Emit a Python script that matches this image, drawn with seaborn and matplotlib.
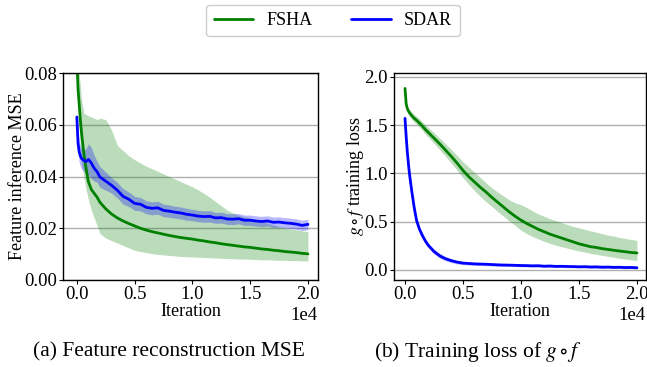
import matplotlib
matplotlib.use("Agg")
import matplotlib.pyplot as plt
import seaborn as sns
import pandas as pd
from matplotlib.lines import Line2D

# ---------------- data ----------------
iterations = [0, 100, 200, 300, 400, 600, 800, 1000, 1250, 1500, 1750,
              2000, 2500, 3000, 3500, 4000, 4500, 5000, 5500, 6000, 6500,
              7000, 7500, 8000, 8500, 9000, 9500, 10000, 10500, 11000, 11500,
              12000, 12500, 13000, 13500, 14000, 14500, 15000, 15500, 16000,
              16500, 17000, 17500, 18000, 18500, 19000, 19500, 20000]

# (a) feature reconstruction MSE
fsha_mse = [0.085, 0.074, 0.068, 0.062, 0.057, 0.049, 0.043, 0.038, 0.035, 0.0335, 0.032,
            0.030, 0.0275, 0.0255, 0.0240, 0.0228, 0.0218, 0.0209, 0.0200, 0.0193, 0.0187,
            0.0182, 0.0177, 0.0172, 0.0168, 0.0164, 0.0161, 0.0158, 0.0154, 0.0151, 0.0147,
            0.0144, 0.0140, 0.0137, 0.0134, 0.0131, 0.0128, 0.0126, 0.0123, 0.0120,
            0.0118, 0.0115, 0.0113, 0.0110, 0.0108, 0.0106, 0.0103, 0.0101]
fsha_mse_hi = [0.090, 0.085, 0.080, 0.075, 0.070, 0.0645, 0.064, 0.0635, 0.063, 0.0625, 0.062,
               0.0625, 0.062, 0.058, 0.052, 0.050, 0.048, 0.0465, 0.0452, 0.0440, 0.0430,
               0.0420, 0.0410, 0.0400, 0.0390, 0.0380, 0.0370, 0.0360, 0.0348, 0.0335, 0.0320,
               0.0303, 0.0287, 0.0270, 0.0260, 0.0250, 0.0245, 0.0240, 0.0233, 0.0226,
               0.0220, 0.0213, 0.0207, 0.0200, 0.0197, 0.0194, 0.0190, 0.0187]
fsha_mse_lo = [0.080, 0.070, 0.060, 0.052, 0.045, 0.040, 0.035, 0.031, 0.027, 0.024, 0.021,
               0.018, 0.0162, 0.0152, 0.0143, 0.0133, 0.0124, 0.0115, 0.0110, 0.0106, 0.0102,
               0.0099, 0.0097, 0.0095, 0.0093, 0.0091, 0.0090, 0.0089, 0.0088, 0.0087, 0.0086,
               0.0085, 0.0084, 0.0083, 0.0082, 0.0081, 0.0081, 0.0080, 0.0079, 0.0078,
               0.0078, 0.0077, 0.0076, 0.0076, 0.0075, 0.0075, 0.0074, 0.0074]
sdar_mse = [0.063, 0.053, 0.0495, 0.048, 0.047, 0.0462, 0.0458, 0.0466, 0.0452, 0.0432, 0.0418,
            0.0398, 0.0382, 0.0366, 0.0347, 0.0323, 0.0312, 0.0296, 0.0293, 0.0281, 0.0277,
            0.0279, 0.0269, 0.0266, 0.0262, 0.0259, 0.0254, 0.0251, 0.0247, 0.0245, 0.0246,
            0.0240, 0.0241, 0.0236, 0.0235, 0.0237, 0.0231, 0.0231, 0.0228, 0.0226,
            0.0228, 0.0223, 0.0224, 0.0221, 0.0219, 0.0216, 0.0211, 0.0215]
sdar_mse_err = [0.002, 0.004, 0.004, 0.004, 0.004, 0.004, 0.005, 0.006, 0.006, 0.005, 0.004,
                0.004, 0.0035, 0.003, 0.003, 0.003, 0.0028, 0.0027, 0.0026, 0.0025, 0.0025,
                0.0025, 0.0024, 0.0024, 0.0023, 0.0023, 0.0023, 0.0022, 0.0022, 0.0022, 0.0022,
                0.0021, 0.0021, 0.0021, 0.0021, 0.0020, 0.0020, 0.0020, 0.0020, 0.0020,
                0.0020, 0.0020, 0.0020, 0.0020, 0.0020, 0.0020, 0.0020, 0.0020]

# (b) training loss of g o f
fsha_loss = [1.88, 1.72, 1.67, 1.645, 1.625, 1.595, 1.57, 1.55, 1.52, 1.49, 1.455,
             1.425, 1.365, 1.305, 1.24, 1.175, 1.105, 1.03, 0.965, 0.91, 0.855,
             0.805, 0.75, 0.70, 0.65, 0.60, 0.555, 0.515, 0.48, 0.45, 0.42,
             0.395, 0.37, 0.35, 0.33, 0.31, 0.29, 0.27, 0.255, 0.24,
             0.232, 0.22, 0.212, 0.203, 0.195, 0.188, 0.18, 0.175]
fsha_loss_hi = [1.90, 1.75, 1.70, 1.68, 1.66, 1.635, 1.61, 1.59, 1.565, 1.535, 1.505,
                1.475, 1.42, 1.365, 1.305, 1.245, 1.185, 1.12, 1.065, 1.01, 0.955,
                0.90, 0.85, 0.805, 0.765, 0.725, 0.695, 0.675, 0.645, 0.61, 0.58,
                0.555, 0.53, 0.51, 0.49, 0.47, 0.45, 0.435, 0.42, 0.405,
                0.39, 0.375, 0.36, 0.35, 0.335, 0.325, 0.315, 0.305]
fsha_loss_lo = [1.86, 1.69, 1.64, 1.61, 1.59, 1.555, 1.53, 1.51, 1.475, 1.445, 1.405,
                1.375, 1.31, 1.245, 1.175, 1.105, 1.03, 0.955, 0.885, 0.82, 0.76,
                0.705, 0.655, 0.605, 0.555, 0.505, 0.46, 0.41, 0.375, 0.345, 0.32,
                0.295, 0.275, 0.255, 0.24, 0.225, 0.21, 0.195, 0.185, 0.17,
                0.16, 0.15, 0.14, 0.13, 0.12, 0.112, 0.104, 0.097]
sdar_loss = [1.57, 1.38, 1.22, 1.09, 0.98, 0.80, 0.64, 0.51, 0.42, 0.355, 0.30,
             0.255, 0.19, 0.145, 0.115, 0.095, 0.080, 0.070, 0.066, 0.062, 0.060,
             0.058, 0.055, 0.052, 0.050, 0.049, 0.047, 0.045, 0.044, 0.042, 0.043,
             0.038, 0.040, 0.036, 0.037, 0.035, 0.034, 0.032, 0.033, 0.030,
             0.031, 0.028, 0.029, 0.026, 0.027, 0.024, 0.025, 0.022]
sdar_loss_err = [0.01, 0.025, 0.025, 0.025, 0.025, 0.025, 0.025, 0.025, 0.025, 0.025, 0.025,
                 0.025, 0.025, 0.025, 0.022, 0.02, 0.018, 0.016, 0.015, 0.015, 0.015,
                 0.014, 0.014, 0.014, 0.014, 0.013, 0.013, 0.013, 0.013, 0.013, 0.013,
                 0.012, 0.012, 0.012, 0.012, 0.012, 0.012, 0.012, 0.012, 0.012,
                 0.012, 0.012, 0.012, 0.012, 0.012, 0.012, 0.012, 0.012]

methods = ["FSHA", "SDAR"]
colors = {"FSHA": "green", "SDAR": "blue"}
captions = ["(a) Feature reconstruction MSE", r"(b) Training loss of $g\circ f$"]
ylabels = ["Feature inference MSE", r"$g\circ f$ training loss"]

# ---------------- style ----------------
SERIF = ["Liberation Serif", "DejaVu Serif"]
sns.set_theme(style="ticks")
plt.rcParams["font.family"] = SERIF
plt.rcParams["font.serif"] = SERIF
plt.rcParams["mathtext.fontset"] = "stix"
plt.rcParams["font.size"] = 13
for k in ["axes.edgecolor", "xtick.color", "ytick.color", "text.color", "axes.labelcolor"]:
    plt.rcParams[k] = "black"

fig = plt.figure(figsize=(6.47, 3.67), dpi=100)
axA = fig.add_axes([63 / 647, 1 - 280 / 367, (318 - 63) / 647, (280 - 73) / 367])
axB = fig.add_axes([394 / 647, 1 - 280 / 367, (646 - 394) / 647, (280 - 73) / 367])


def draw(ax, fsha, fsha_lo, fsha_hi, sdar, sdar_lo, sdar_hi):
    ax.fill_between(iterations, fsha_lo, fsha_hi, color="green", alpha=0.27, lw=0)
    ax.fill_between(iterations, sdar_lo, sdar_hi, color="blue", alpha=0.28, lw=0)
    df = pd.DataFrame({
        "Iteration": iterations * 2,
        "value": list(fsha) + list(sdar),
        "method": ["FSHA"] * len(iterations) + ["SDAR"] * len(iterations),
    })
    sns.lineplot(data=df, x="Iteration", y="value", hue="method", palette=colors,
                 hue_order=methods, lw=2, ax=ax, legend=False)
    ax.grid(axis="y", color="#b0b0b0", lw=1)
    ax.set_axisbelow(True)
    ax.ticklabel_format(axis="x", style="sci", scilimits=(0, 0))
    ax.tick_params(labelsize=13.5, length=3, width=0.8, pad=1.5,
                   labelfontfamily="Liberation Serif")
    for s in ax.spines.values():
        s.set_linewidth(1.0)
        s.set_color("black")
    off = ax.xaxis.get_offset_text()
    off.set_fontsize(13.5)
    off.set_family(SERIF)
    ax.set_xticks([0, 5000, 10000, 15000, 20000])


sdar_mse_lo = [m - e for m, e in zip(sdar_mse, sdar_mse_err)]
sdar_mse_hi = [m + e for m, e in zip(sdar_mse, sdar_mse_err)]
sdar_loss_lo = [m - e for m, e in zip(sdar_loss, sdar_loss_err)]
sdar_loss_hi = [m + e for m, e in zip(sdar_loss, sdar_loss_err)]

draw(axA, fsha_mse, fsha_mse_lo, fsha_mse_hi, sdar_mse, sdar_mse_lo, sdar_mse_hi)
draw(axB, fsha_loss, fsha_loss_lo, fsha_loss_hi, sdar_loss, sdar_loss_lo, sdar_loss_hi)

axA.set_xlim(-1200, 20870)
axA.set_ylim(0, 0.08)
axA.set_yticks([0.0, 0.02, 0.04, 0.06, 0.08])
axA.yaxis.set_major_formatter(matplotlib.ticker.FormatStrFormatter("%.2f"))
axB.set_xlim(-950, 20780)
axB.set_ylim(-0.105, 2.04)
axB.set_yticks([0.0, 0.5, 1.0, 1.5, 2.0])
axB.yaxis.set_major_formatter(matplotlib.ticker.FormatStrFormatter("%.1f"))

for ax, yl in zip([axA, axB], ylabels):
    ax.set_xlabel("Iteration", fontsize=13, labelpad=0)
    ax.set_ylabel(yl, fontsize=13, labelpad=-1.5)

# legend
handles = [Line2D([0], [0], color=colors[m], lw=2) for m in methods]
fig.legend(handles, methods, loc="center", bbox_to_anchor=(333 / 647, 1 - 20.5 / 367),
           ncol=2, fontsize=13, handlelength=2.2, columnspacing=2.1, handletextpad=0.75,
           frameon=True, fancybox=True, edgecolor="#cccccc", framealpha=1)

fig.text(169 / 647, 1 - 352 / 367, captions[0], ha="center", va="center", fontsize=15.5)
fig.text(478 / 647, 1 - 352 / 367, captions[1], ha="center", va="center", fontsize=15.5)

fig.savefig("out.png", dpi=100)
